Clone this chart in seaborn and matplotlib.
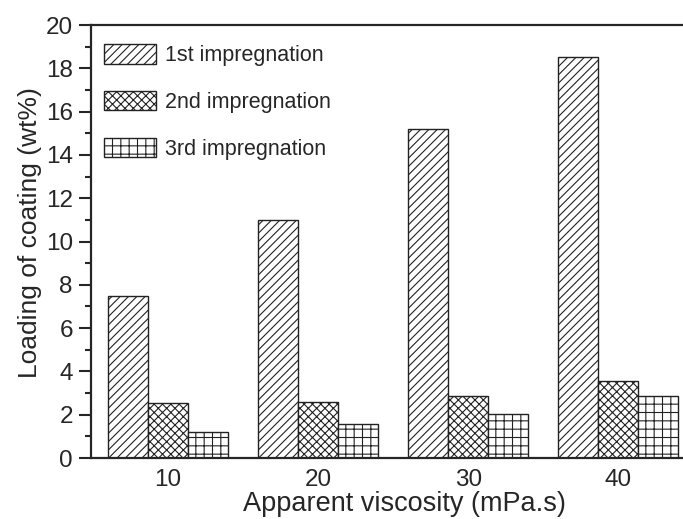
import matplotlib
matplotlib.use("Agg")
import matplotlib.pyplot as plt
import seaborn as sns
import pandas as pd
from matplotlib.patches import Patch

viscosity = ["10", "20", "30", "40"]
series = ["1st impregnation", "2nd impregnation", "3rd impregnation"]
first = [7.5, 11.0, 15.2, 18.5]
second = [2.55, 2.6, 2.85, 3.55]
third = [1.2, 1.55, 2.05, 2.85]
hatches = ["////", "xxxx", "++"]

df = pd.DataFrame({
    "viscosity": viscosity * 3,
    "series": [series[0]] * 4 + [series[1]] * 4 + [series[2]] * 4,
    "loading": first + second + third,
})

sns.set_style("ticks")
plt.rcParams["font.family"] = ["Liberation Sans", "DejaVu Sans"]
plt.rcParams["hatch.linewidth"] = 0.8

fig = plt.figure(figsize=(6.83, 5.19), dpi=100)
ax = fig.add_axes([0.1332, 0.1175, 0.8668, 0.8343])

sns.barplot(data=df, x="viscosity", y="loading", hue="series", order=viscosity,
            hue_order=series, width=0.8, gap=0, ax=ax, legend=False,
            palette=["white"] * 3, edgecolor="#222222", linewidth=1.0)

for cont, h in zip(ax.containers, hatches):
    for p in cont:
        p.set_hatch(h)
        p.set_facecolor("white")
        p.set_edgecolor("#222222")

handles = [Patch(facecolor="white", edgecolor="#222222", hatch=h, linewidth=1.0, label=s)
           for s, h in zip(series, hatches)]
ax.legend(handles=handles, loc="upper left", frameon=False, fontsize=15.5,
          handlelength=2.4, handleheight=1.0, labelspacing=1.15,
          bbox_to_anchor=(-0.01, 1.0), handletextpad=0.4)

ax.set_xlim(-0.51, 3.43)
ax.set_ylim(0, 20)
ax.set_yticks(range(0, 21, 2))
ax.set_yticks(range(0, 21, 1), minor=True)
ax.tick_params(axis="y", which="major", direction="out", length=8.6, width=1.5, labelsize=17.5, pad=4.5)
ax.tick_params(axis="y", which="minor", direction="out", length=4.3, width=1.5)
ax.tick_params(axis="x", length=0, labelsize=17.5, pad=8)
for s in ["left", "bottom", "top"]:
    ax.spines[s].set_linewidth(1.6)
    ax.spines[s].set_visible(True)
ax.spines["right"].set_visible(False)

ax.set_xlabel("Apparent viscosity (mPa.s)", fontsize=19.5, labelpad=0)
ax.set_ylabel("Loading of coating (wt%)", fontsize=19, labelpad=4)
ax.xaxis.set_label_coords(0.529, -0.077)
ax.yaxis.set_label_coords(-0.082, 0.52)

fig.savefig("out.png", dpi=100)
